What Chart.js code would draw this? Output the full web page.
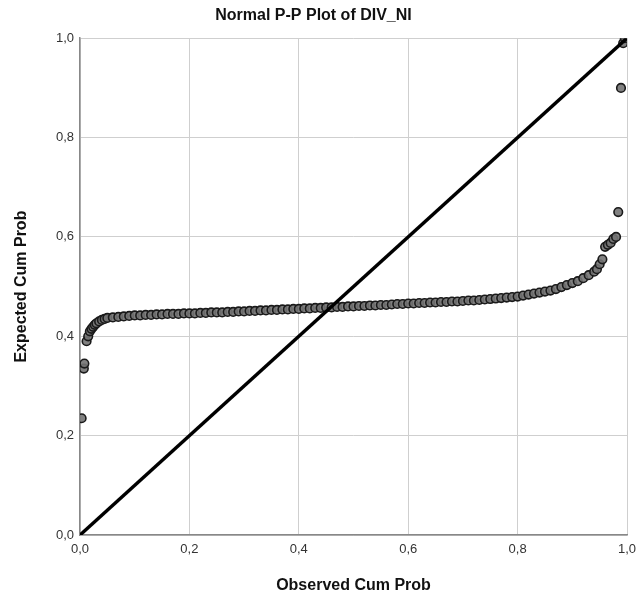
<!DOCTYPE html>
<html>
<head>
<meta charset="utf-8">
<script src="https://cdn.jsdelivr.net/npm/chart.js@4.4.4/dist/chart.umd.min.js"></script>
<style>
  html, body { margin: 0; padding: 0; background: #fff; }
  #wrap { width: 641px; height: 603px; }
</style>
</head>
<body>
<div id="wrap"><canvas id="pp" width="641" height="603"></canvas></div>
<script>
const chartTitle = 'Normal P-P Plot of DIV_NI';
const xTitle = 'Observed Cum Prob';
const yTitle = 'Expected Cum Prob';
const tickLabels = ['0,0', '0,2', '0,4', '0,6', '0,8', '1,0'];

// points
const observedCum = [
    0.003, 0.007, 0.008, 0.012, 0.015, 0.018, 0.021, 0.024, 0.027, 0.030, 0.035, 0.040, 0.045,
    0.05, 0.06, 0.07, 0.08, 0.09, 0.10, 0.11, 0.12, 0.13, 0.14, 0.15, 0.16, 0.17, 0.18, 0.19,
    0.20, 0.21, 0.22, 0.23, 0.24, 0.25, 0.26, 0.27, 0.28, 0.29, 0.30, 0.31, 0.32, 0.33, 0.34,
    0.35, 0.36, 0.37, 0.38, 0.39, 0.40, 0.41, 0.42, 0.43, 0.44, 0.45, 0.46, 0.47, 0.48, 0.49,
    0.50, 0.51, 0.52, 0.53, 0.54, 0.55, 0.56, 0.57, 0.58, 0.59, 0.60, 0.61, 0.62, 0.63, 0.64,
    0.65, 0.66, 0.67, 0.68, 0.69, 0.70, 0.71, 0.72, 0.73, 0.74, 0.75, 0.76, 0.77, 0.78, 0.79,
    0.80, 0.81, 0.82, 0.83, 0.84, 0.85, 0.86, 0.87, 0.88, 0.89, 0.90, 0.91, 0.92, 0.93, 0.94,
    0.945, 0.95, 0.955, 0.96, 0.965, 0.97, 0.975, 0.98, 0.984, 0.989, 0.993, 0.996
];
const expectedCum = [
    0.235, 0.335, 0.345, 0.390, 0.400, 0.410, 0.415, 0.419, 0.423, 0.426, 0.430, 0.433, 0.435,
    0.437, 0.438, 0.439, 0.440, 0.441, 0.442, 0.442, 0.443, 0.443, 0.444, 0.444, 0.445, 0.445, 0.445, 0.446,
    0.446, 0.446, 0.447, 0.447, 0.448, 0.448, 0.448, 0.449, 0.449, 0.450, 0.450, 0.451, 0.451, 0.452, 0.452,
    0.453, 0.453, 0.454, 0.454, 0.455, 0.455, 0.456, 0.456, 0.457, 0.457, 0.458, 0.458, 0.459, 0.459, 0.460,
    0.460, 0.461, 0.461, 0.462, 0.462, 0.463, 0.463, 0.464, 0.465, 0.465, 0.466, 0.466, 0.467, 0.467, 0.468,
    0.468, 0.469, 0.469, 0.470, 0.470, 0.471, 0.472, 0.472, 0.473, 0.474, 0.475, 0.476, 0.477, 0.478, 0.479,
    0.480, 0.482, 0.484, 0.486, 0.488, 0.490, 0.492, 0.495, 0.499, 0.503, 0.507, 0.511, 0.517, 0.523, 0.530,
    0.535, 0.545, 0.555, 0.580, 0.584, 0.588, 0.596, 0.600, 0.650, 0.900, 0.990, 1.000
];

// reference line of the plot
const diagX = [0, 1];
const diagY = [0, 1];

const points = observedCum.map((x, i) => ({ x: x, y: expectedCum[i] }));
const diagonal = diagX.map((x, i) => ({ x: x, y: diagY[i] }));

const fontFamily = "'Liberation Sans', Arial, sans-serif";

new Chart(document.getElementById('pp'), {
    type: 'scatter',
    data: {
        datasets: [
            {
                label: 'Diagonal',
                data: diagonal,
                showLine: true,
                borderColor: '#000',
                borderWidth: 3.5,
                pointRadius: 0,
                order: 0
            },
            {
                label: 'Observed',
                data: points,
                backgroundColor: 'rgba(115, 115, 115, 0.9)',
                borderColor: '#1a1a1a',
                borderWidth: 1.6,
                pointRadius: 4.3,
                order: 1
            }
        ]
    },
    options: {
        responsive: false,
        animation: false,
        layout: { padding: { top: 0, right: 14, bottom: 0, left: 0 } },
        plugins: {
            legend: { display: false },
            tooltip: { enabled: false },
            title: {
                display: true,
                text: chartTitle,
                color: '#111',
                font: { family: fontFamily, size: 16, weight: 'bold' },
                padding: { top: 6, bottom: 13 }
            }
        },
        scales: {
            x: {
                type: 'linear',
                min: 0,
                max: 1,
                afterFit: function (scale) {
                    scale.height = 68;
                    scale.paddingRight = 0;
                    scale.paddingLeft = 0;
                },
                ticks: {
                    stepSize: 0.2,
                    color: '#333',
                    font: { family: fontFamily, size: 13 },
                    padding: 7,
                    maxRotation: 0,
                    callback: function (value, index) { return tickLabels[index]; }
                },
                grid: { color: '#cfcfcf', lineWidth: 1, drawTicks: false },
                border: { color: '#888', width: 1.5 },
                title: {
                    display: true,
                    text: xTitle,
                    color: '#111',
                    font: { family: fontFamily, size: 16, weight: 'bold' },
                    padding: 8
                }
            },
            y: {
                type: 'linear',
                min: 0,
                max: 1,
                afterFit: function (scale) { scale.width = 80; },
                ticks: {
                    stepSize: 0.2,
                    color: '#333',
                    font: { family: fontFamily, size: 13 },
                    padding: 6,
                    callback: function (value, index) { return tickLabels[index]; }
                },
                grid: { color: '#cfcfcf', lineWidth: 1, drawTicks: false },
                border: { color: '#888', width: 1.5 },
                title: {
                    display: true,
                    text: yTitle,
                    color: '#111',
                    font: { family: fontFamily, size: 16, weight: 'bold' },
                    padding: 12
                }
            }
        }
    }
});
</script>
</body>
</html>
